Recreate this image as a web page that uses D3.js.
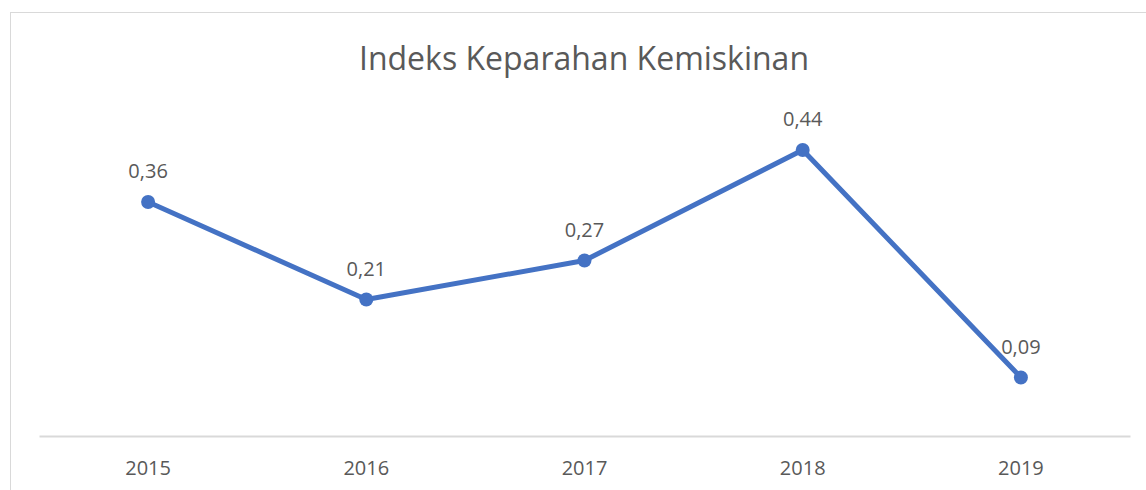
<!DOCTYPE html>
<html>
<head>
<meta charset="utf-8">
<script src="https://cdn.jsdelivr.net/npm/d3@7"></script>
<style>
  body { margin: 0; background: #fff; }
  text { font-family: "Open Sans", "Noto Sans", sans-serif; fill: #595959; }
</style>
</head>
<body>
<div id="chart"></div>
<script>
const years = ["2015", "2016", "2017", "2018", "2019"];
const values = [0.36, 0.21, 0.27, 0.44, 0.09];
const labels = ["0,36", "0,21", "0,27", "0,44", "0,09"];
const title = "Indeks Keparahan Kemiskinan";

const width = 1146, height = 490;

const svg = d3.select("#chart")
  .append("svg")
  .attr("width", width)
  .attr("height", height);

// chart area border
svg.append("rect")
  .attr("x", 10.5)
  .attr("y", 12.5)
  .attr("width", 1150)
  .attr("height", 500)
  .attr("fill", "none")
  .attr("stroke", "#d9d9d9");

const xScale = d3.scaleBand().domain(years).range([39, 1130]);
const yScale = d3.scaleLinear().domain([0, 0.44]).range([436, 150]);

svg.append("text")
  .attr("x", 584)
  .attr("y", 70)
  .attr("text-anchor", "middle")
  .style("font-size", "32px")
  .text(title);

// axis line + year labels
const xAxis = d3.axisBottom(xScale).tickSize(0).tickPadding(25);
const gx = svg.append("g")
  .attr("transform", `translate(0,${yScale(0)})`)
  .call(xAxis);
gx.select(".domain").attr("stroke", "#d9d9d9").attr("stroke-width", 2);
gx.selectAll("text")
  .style("font-size", "20px")
  .attr("fill", "#595959")
  .style("font-family", '"Open Sans", sans-serif');

const pts = years.map((y, i) => ({ year: y, v: values[i], label: labels[i] }));
const cx = d => xScale(d.year) + xScale.bandwidth() / 2;

const line = d3.line()
  .x(cx)
  .y(d => yScale(d.v));

svg.append("path")
  .datum(pts)
  .attr("d", line)
  .attr("fill", "none")
  .attr("stroke", "#4472c4")
  .attr("stroke-width", 5)
  .attr("stroke-linejoin", "round");

svg.selectAll("circle")
  .data(pts)
  .join("circle")
  .attr("cx", cx)
  .attr("cy", d => yScale(d.v))
  .attr("r", 7)
  .attr("fill", "#4472c4");

svg.selectAll("text.lbl")
  .data(pts)
  .join("text")
  .attr("class", "lbl")
  .attr("x", cx)
  .attr("y", d => yScale(d.v) - 24)
  .attr("text-anchor", "middle")
  .style("font-size", "20px")
  .text(d => d.label);
</script>
</body>
</html>
